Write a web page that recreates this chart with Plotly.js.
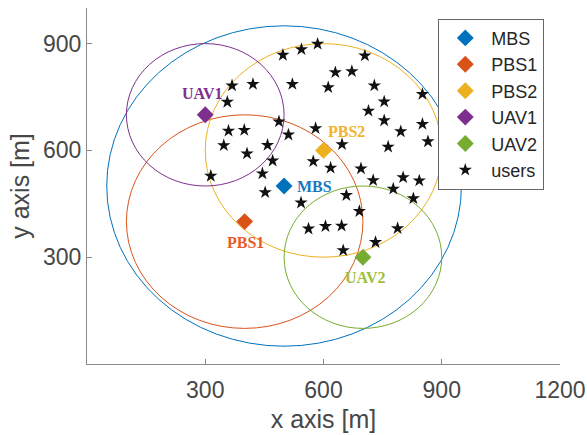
<!DOCTYPE html>
<html>
<head>
<meta charset="utf-8">
<script src="https://cdn.plot.ly/plotly-3.0.1.min.js"></script>
<style>html,body{margin:0;padding:0;background:#fff;}#chart{width:587px;height:435px;}</style>
</head>
<body>
<div id="chart"></div>
<script>
// Stations
var stationNames = ['MBS', 'PBS1', 'PBS2', 'UAV1', 'UAV2'];
var stationX = [500, 400, 600, 300, 700];
var stationY = [500, 400, 600, 700, 300];
var stationRadius = [450, 300, 300, 200, 200];
var stationColors = ['#0072BD', '#D95319', '#EDB120', '#7E2F8E', '#77AC30'];
var labelColors = ['#1878C0', '#E85A2A', '#F2B22C', '#7E2F8E', '#A0BE3A'];
var labelX = [578, 403, 658, 292, 707];
var labelY = [499, 341, 653, 759, 242];

// Users
var userX = [497, 544, 585, 705, 630, 672, 368, 421, 521, 612,
             729, 851, 356, 754, 714, 754, 487, 580, 359, 399,
             511, 796, 851, 865, 347, 458, 406, 647, 764, 471,
             574, 618, 695, 314, 445, 726, 802, 843, 777, 452,
             658, 543, 828, 691, 562, 605, 646, 788, 732, 650];
var userY = [868, 884, 899, 866, 819, 822, 782, 786, 786, 777,
             782, 758, 736, 737, 711, 684, 681, 662, 655, 657,
             644, 653, 674, 625, 614, 615, 591, 617, 610, 571,
             569, 551, 549, 528, 535, 516, 524, 515, 492, 482,
             474, 453, 465, 429, 380, 387, 388, 381, 342, 319];

var xTicks = [300, 600, 900, 1200];
var yTicks = [300, 600, 900];

var traces = [];
for (var i = 0; i < stationNames.length; i++) {
  traces.push({
    type: 'scatter', mode: 'markers', name: stationNames[i],
    x: [stationX[i]], y: [stationY[i]],
    marker: {symbol: 'diamond', size: 13, color: stationColors[i], line: {width: 0}}
  });
}
traces.push({
  type: 'scatter', mode: 'markers', name: 'users',
  x: userX, y: userY,
  marker: {symbol: 'star', size: 10, color: '#111111', line: {width: 0}}
});

var shapes = [];
for (var j = 0; j < stationNames.length; j++) {
  shapes.push({
    type: 'circle', xref: 'x', yref: 'y', layer: 'below',
    x0: stationX[j] - stationRadius[j], x1: stationX[j] + stationRadius[j],
    y0: stationY[j] - stationRadius[j], y1: stationY[j] + stationRadius[j],
    line: {color: stationColors[j], width: 1}
  });
}

var annotations = [];
for (var k = 0; k < stationNames.length; k++) {
  annotations.push({
    x: labelX[k], y: labelY[k], xref: 'x', yref: 'y',
    text: '<b>' + stationNames[k] + '</b>', showarrow: false,
    xanchor: 'center', yanchor: 'middle',
    font: {family: 'Liberation Serif, Times New Roman, serif', size: 16, color: labelColors[k]}
  });
}

var axisCommon = {
  showline: true, linecolor: '#8a8a8a', linewidth: 1,
  ticks: 'inside', ticklen: 5, tickcolor: '#8a8a8a', tickwidth: 1,
  showgrid: false, zeroline: false,
  tickfont: {family: 'Liberation Sans, Arial, sans-serif', size: 23, color: '#474747'}
};

var layout = {
  width: 587, height: 435,
  margin: {l: 87, r: 27, t: 8, b: 71},
  paper_bgcolor: '#ffffff', plot_bgcolor: '#ffffff',
  showlegend: true,
  xaxis: Object.assign({}, axisCommon, {
    range: [0, 1200], tickvals: xTicks, ticktext: xTicks.map(String),
    ticklabelstandoff: 5,
    title: {text: 'x axis [m]', font: {family: 'Liberation Sans, Arial, sans-serif', size: 25, color: '#474747'}, standoff: 8}
  }),
  yaxis: Object.assign({}, axisCommon, {
    range: [0, 1000], tickvals: yTicks, ticktext: yTicks.map(String),
    title: {text: 'y axis [m]', font: {family: 'Liberation Sans, Arial, sans-serif', size: 25, color: '#474747'}, standoff: 6}
  }),
  legend: {
    x: 0.7427, y: 0.97, xanchor: 'left', yanchor: 'top',
    bgcolor: '#ffffff', bordercolor: '#666666', borderwidth: 1,
    font: {family: 'Liberation Sans, Arial, sans-serif', size: 18, color: '#262626'},
    itemwidth: 42, tracegroupgap: 0
  },
  shapes: shapes,
  annotations: annotations
};

Plotly.newPlot('chart', traces, layout, {displayModeBar: false, staticPlot: true});
</script>
</body>
</html>
